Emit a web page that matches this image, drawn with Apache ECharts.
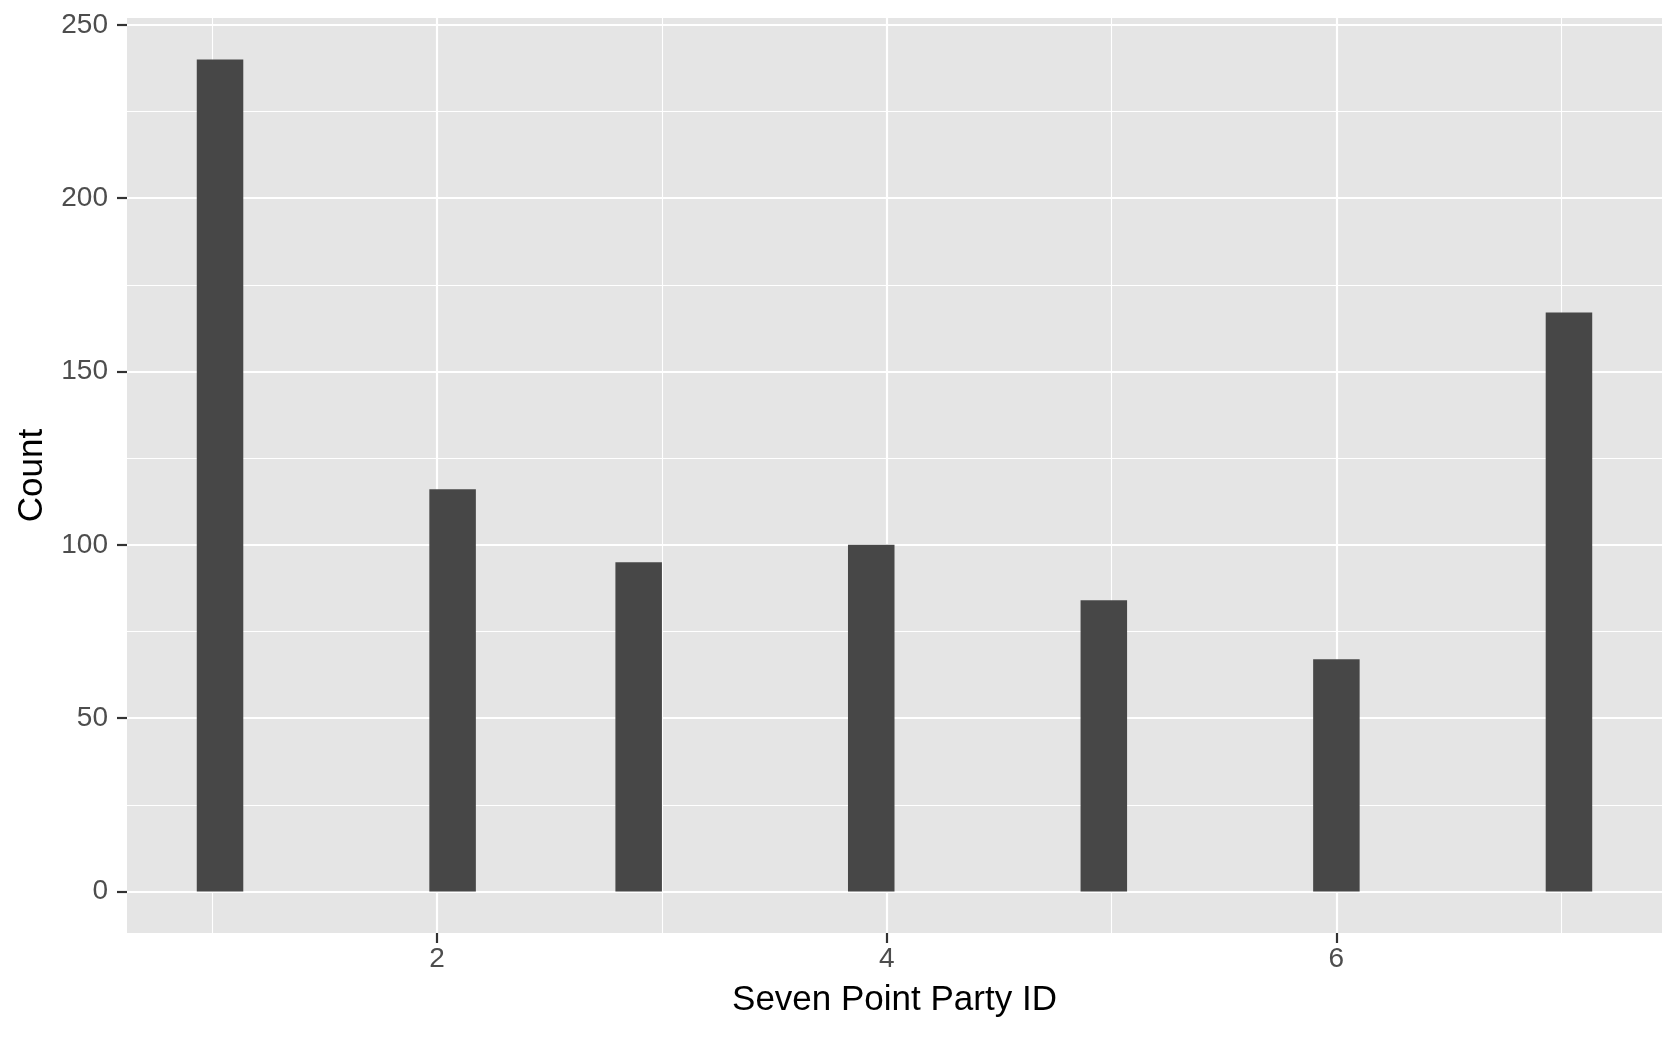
<!DOCTYPE html>
<html>
<head>
<meta charset="utf-8">
<script src="https://cdn.jsdelivr.net/npm/echarts@6/dist/echarts.min.js"></script>
<style>
html,body{margin:0;padding:0;background:#fff;}
#chart{width:1680px;height:1038px;}
</style>
</head>
<body>
<div id="chart"></div>
<script>
// Histogram bins (30 bins over 1..7, ggplot style) — only non-empty bins
const binStart = [0.9310, 1.9655, 2.7931, 3.8276, 4.8621, 5.8966, 6.9310];
const binEnd   = [1.1379, 2.1724, 3.0000, 4.0345, 5.0690, 6.1034, 7.1379];
const counts   = [240, 116, 95, 100, 84, 67, 167];

const xMajorTicks = [2, 4, 6];
const xMinorTicks = [1, 3, 5, 7];
const yMajorTicks = [0, 50, 100, 150, 200, 250];
const yMinorTicks = [25, 75, 125, 175, 225];

const xMin = 0.6207, xMax = 7.4483;
const yMin = -12.0, yMax = 252.0;

const FONT = 'Liberation Sans, Arial, Helvetica, sans-serif';

const data = binStart.map((s, i) => [s, binEnd[i], counts[i]]);

const chart = echarts.init(document.getElementById('chart'), null, {renderer: 'canvas'});
chart.setOption({
  animation: false,
  backgroundColor: '#ffffff',
  grid: {
    left: 127, top: 18, right: 18, bottom: 105,
    show: true, backgroundColor: '#E5E5E5', borderWidth: 0
  },
  xAxis: [
    {
      type: 'value', min: xMin, max: xMax, position: 'bottom',
      axisLine: {show: false, onZero: false},
      axisTick: {show: true, length: 10, customValues: xMajorTicks, lineStyle: {color: '#333333', width: 2.2}},
      axisLabel: {show: true, customValues: xMajorTicks, margin: 12, fontSize: 28, color: '#4D4D4D', fontFamily: FONT},
      splitLine: {show: true, lineStyle: {color: '#ffffff', width: 2.2}},
      name: 'Seven Point Party ID', nameLocation: 'middle', nameGap: 50,
      nameTextStyle: {fontSize: 35, color: '#000000', fontFamily: FONT}
    },
    {
      type: 'value', min: xMin, max: xMax, position: 'top',
      axisLine: {show: false, onZero: false},
      axisTick: {show: false, customValues: xMinorTicks},
      axisLabel: {show: false, customValues: xMinorTicks},
      splitLine: {show: true, lineStyle: {color: '#ffffff', width: 1.1}}
    }
  ],
  yAxis: [
    {
      type: 'value', min: yMin, max: yMax, position: 'left',
      axisLine: {show: false, onZero: false},
      axisTick: {show: true, length: 10, customValues: yMajorTicks, lineStyle: {color: '#333333', width: 2.2}},
      axisLabel: {show: true, customValues: yMajorTicks, margin: 19, fontSize: 28, color: '#4D4D4D', fontFamily: FONT},
      splitLine: {show: true, lineStyle: {color: '#ffffff', width: 2.2}},
      name: 'Count', nameLocation: 'middle', nameGap: 77, nameRotate: 90,
      nameTextStyle: {fontSize: 35, color: '#000000', fontFamily: FONT}
    },
    {
      type: 'value', min: yMin, max: yMax, position: 'right',
      axisLine: {show: false, onZero: false},
      axisTick: {show: false, customValues: yMinorTicks},
      axisLabel: {show: false, customValues: yMinorTicks},
      splitLine: {show: true, lineStyle: {color: '#ffffff', width: 1.1}}
    }
  ],
  series: [{
    type: 'custom',
    xAxisIndex: 0, yAxisIndex: 0,
    encode: {x: [0, 1], y: 2},
    data: data,
    renderItem: function (params, api) {
      const p0 = api.coord([api.value(0), api.value(2)]);
      const p1 = api.coord([api.value(1), 0]);
      return {
        type: 'rect',
        shape: {x: p0[0], y: p0[1], width: p1[0] - p0[0], height: p1[1] - p0[1]},
        style: {fill: '#474747'}
      };
    }
  }]
});
</script>
</body>
</html>
